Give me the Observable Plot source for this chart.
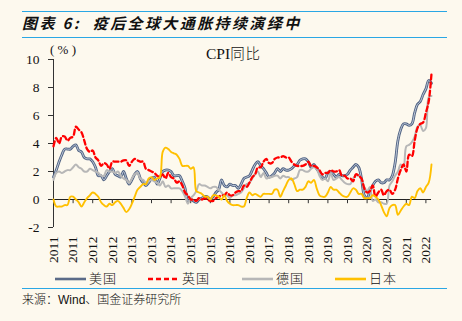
<!DOCTYPE html>
<html><head><meta charset="utf-8">
<script src="https://cdn.jsdelivr.net/npm/d3@7"></script>
<script src="https://cdn.jsdelivr.net/npm/@observablehq/plot@0.6"></script>
<style>
html,body{margin:0;padding:0;background:#FDF9EE;}
#wrap{position:relative;width:462px;height:321px;background:#FDF9EE;overflow:hidden;font-family:"Liberation Serif",serif;color:#111;}
.rule{position:absolute;left:22px;width:425px;height:0;border-top:1.6px solid #2AA7E4;}
#title{position:absolute;left:22px;top:13px;font:italic bold 15px "Noto Sans CJK SC",sans-serif;letter-spacing:2.4px;color:#111;white-space:nowrap;line-height:20px;}
#chart{position:absolute;left:0;top:40px;}
#unit{position:absolute;left:50px;top:42px;font:13px "Liberation Serif",serif;white-space:pre;}
#ctitle{position:absolute;left:206px;top:42px;font:15.5px "Liberation Serif",serif;white-space:nowrap;}
#ctitle span{font-family:"Noto Sans CJK SC",sans-serif;font-weight:300;font-size:14.5px;letter-spacing:1px;}
#legend{position:absolute;left:0;top:268px;width:462px;height:20px;}
#legend .it{position:absolute;top:0;font:13px "Noto Sans CJK SC",sans-serif;font-weight:300;line-height:20px;letter-spacing:1px;white-space:nowrap;}
#legend svg{vertical-align:middle;margin-right:3px;}
#source{position:absolute;left:22px;top:290px;font:12px "Noto Sans CJK SC",sans-serif;font-weight:300;line-height:17px;white-space:nowrap;}
#source .w{font-family:"Liberation Sans",sans-serif;}
</style></head>
<body>
<div id="wrap">
  <div class="rule" style="top:11px"></div>
  <div id="title">图表 6:&nbsp; 疫后全球大通胀持续演绎中</div>
  <div class="rule" style="top:37px"></div>
  <div id="chart"></div>
  <div id="unit">( % )</div>
  <div id="ctitle">CPI<span>同比</span></div>
  <div id="legend"></div>
  <div class="rule" style="top:288px"></div>
  <div id="source">来源：<span class="w">Wind</span>、国金证券研究所</div>
</div>
<script>
// Monthly CPI YoY (%), Jan 2011 – Apr 2022
const seriesNames = ["美国", "英国", "德国", "日本"];
const us = [
  1.6,2.1,2.7,3.2,3.6,3.6,3.6,3.8,3.9,3.5,3.4,3.0,
  2.9,2.9,2.7,2.3,1.7,1.7,1.4,1.7,2.0,2.2,1.8,1.7,
  1.6,2.0,1.5,1.1,1.4,1.8,2.0,1.5,1.2,1.0,1.2,1.5,
  1.6,1.1,1.5,2.0,2.1,2.1,2.0,1.7,1.7,1.7,1.3,0.8,
  -0.1,0.0,-0.1,-0.2,0.0,0.1,0.2,0.2,0.0,0.2,0.5,0.7,
  1.4,1.0,0.9,1.1,1.0,1.0,0.8,1.1,1.5,1.6,1.7,2.1,
  2.5,2.7,2.4,2.2,1.9,1.6,1.7,1.9,2.2,2.0,2.2,2.1,
  2.1,2.2,2.4,2.5,2.8,2.9,2.9,2.7,2.3,2.5,2.2,1.9,
  1.6,1.5,1.9,2.0,1.8,1.6,1.8,1.7,1.7,1.8,2.1,2.3,
  2.5,2.3,1.5,0.3,0.1,0.6,1.0,1.3,1.4,1.2,1.2,1.4,
  1.4,1.7,2.6,4.2,5.0,5.4,5.4,5.3,5.4,6.2,6.8,7.0,
  7.5,7.9,8.5,8.3
];
const uk = [
  3.8,4.4,4.0,4.5,4.5,4.2,4.4,4.5,5.2,5.0,4.8,4.2,
  3.6,3.4,3.5,3.0,2.8,2.4,2.6,2.5,2.2,2.7,2.7,2.7,
  2.7,2.8,2.8,2.4,2.7,2.9,2.8,2.7,2.7,2.2,2.1,2.0,
  1.9,1.7,1.6,1.8,1.5,1.9,1.6,1.5,1.2,1.3,1.0,0.5,
  0.3,0.0,0.0,-0.1,0.1,0.0,0.1,0.0,-0.1,-0.1,0.1,0.2,
  0.3,0.3,0.5,0.3,0.3,0.5,0.6,0.6,1.0,0.9,1.2,1.6,
  1.8,2.3,2.3,2.7,2.9,2.6,2.6,2.9,3.0,3.0,3.1,3.0,
  3.0,2.7,2.5,2.4,2.4,2.4,2.5,2.7,2.4,2.4,2.3,2.1,
  1.8,1.9,1.9,2.1,2.0,2.0,2.1,1.7,1.7,1.5,1.5,1.3,
  1.8,1.7,1.5,0.8,0.5,0.6,1.0,0.2,0.5,0.7,0.3,0.6,
  0.7,0.4,0.7,1.5,2.1,2.5,2.0,3.2,3.1,4.2,5.1,5.4,
  5.5,6.2,7.0,9.0
];
const de = [
  1.4,1.9,2.0,1.9,2.0,2.1,2.1,2.3,2.5,2.3,2.2,2.0,
  2.0,2.2,2.1,2.0,1.9,1.7,1.7,2.1,2.0,2.0,1.9,2.0,
  1.7,1.5,1.4,1.2,1.5,1.8,1.9,1.5,1.4,1.2,1.3,1.4,
  1.3,1.2,1.0,1.3,0.9,1.0,0.8,0.8,0.8,0.8,0.6,0.2,
  -0.3,0.1,0.3,0.6,1.1,1.0,1.0,0.9,0.8,0.9,0.9,0.7,
  0.5,0.3,0.3,0.1,0.3,0.3,0.4,0.5,0.8,1.1,1.2,1.5,
  1.8,2.0,1.6,1.9,1.5,1.6,1.6,1.7,1.7,1.5,1.7,1.6,
  1.6,1.4,1.5,1.6,2.1,2.1,2.0,2.0,2.2,2.3,2.2,1.7,
  1.4,1.5,1.3,1.9,1.4,1.5,1.6,1.4,1.2,1.1,1.1,1.5,
  1.7,1.7,1.4,0.9,0.6,0.9,-0.1,0.0,-0.2,-0.2,-0.3,-0.3,
  1.0,1.3,1.7,2.0,2.5,2.3,3.8,3.9,4.1,4.5,5.2,5.3,
  4.9,5.1,7.3,7.4
];
const jp = [
  0.0,-0.5,-0.5,-0.5,-0.4,-0.4,0.2,0.2,0.0,-0.2,-0.5,-0.2,
  0.1,0.3,0.5,0.4,0.2,-0.2,-0.4,-0.5,-0.3,-0.4,-0.2,-0.1,
  -0.3,-0.6,-0.9,-0.7,-0.3,0.2,0.7,0.9,1.1,1.1,1.5,1.6,
  1.4,1.5,1.6,3.4,3.7,3.6,3.4,3.3,3.2,2.9,2.4,2.4,
  2.4,2.2,2.3,0.6,0.5,0.4,0.2,0.2,0.0,0.3,0.3,0.2,
  0.0,0.3,-0.1,-0.3,-0.4,-0.4,-0.4,-0.5,-0.5,0.1,0.5,0.3,
  0.4,0.3,0.2,0.4,0.4,0.4,0.4,0.7,0.7,0.2,0.6,1.0,
  1.4,1.5,1.1,0.6,0.7,0.7,0.9,1.3,1.2,1.4,0.8,0.3,
  0.2,0.2,0.5,0.9,0.7,0.7,0.5,0.3,0.2,0.2,0.5,0.8,
  0.7,0.4,0.4,0.1,0.1,0.1,0.3,0.2,0.0,-0.4,-0.9,-1.2,
  -0.6,-0.4,-0.4,-1.1,-0.8,-0.5,-0.3,-0.4,0.2,0.1,0.6,0.8,
  0.5,0.9,1.2,2.5
];
// x tick labels, one every 7 months from Jan 2011
const xTickLabels = ["2011","2011","2012","2012","2013","2013","2014","2015","2015","2016",
                     "2016","2017","2018","2018","2019","2019","2020","2020","2021","2022"];
const yTicks = [-2, 0, 2, 4, 6, 8, 10];
const colors = {us: "#4F6283", usInner: "#CCD5E2", uk: "#FF0000", de: "#B7B7B7", jp: "#FFC000"};

const n = us.length;
const idx = d3.range(n);
const tickIdx = xTickLabels.map((_, k) => k * 7);
const crv = "catmull-rom";

const chart = Plot.plot({
  width: 462, height: 228,
  marginTop: 19, marginBottom: 41, marginLeft: 53, marginRight: 31,
  style: {background: "transparent", fontFamily: "Liberation Serif, serif", fontSize: "13px", color: "#111"},
  x: {domain: [0, n - 1]},
  y: {domain: [-2, 10]},
  marks: [
    Plot.axisY({ticks: yTicks, tickSize: 5, tickPadding: 9, tickFormat: d => String(d), fontSize: 13.5, stroke: "#333"}),
    Plot.axisX({ticks: tickIdx, tickSize: 0, tickPadding: 9, tickRotate: -90,
                tickFormat: d => xTickLabels[tickIdx.indexOf(d)], fontSize: 13.5}),
    Plot.ruleX([0], {stroke: "#333", strokeWidth: 1}),
    Plot.ruleY([0], {stroke: "#222", strokeWidth: 1}),
    Plot.ruleX(tickIdx, {y1: 0, y2: -0.3, stroke: "#333"}),
    Plot.line(us, {x: idx, y: us, stroke: colors.us, strokeWidth: 2.8, curve: crv}),
    Plot.line(us, {x: idx, y: us, stroke: colors.usInner, strokeWidth: 0.9, curve: crv}),
    Plot.line(de, {x: idx, y: de, stroke: colors.de, strokeWidth: 2, curve: crv}),
    Plot.line(uk, {x: idx, y: uk, stroke: colors.uk, strokeWidth: 2.3, strokeDasharray: "5,3", curve: crv}),
    Plot.line(jp, {x: idx, y: jp, stroke: colors.jp, strokeWidth: 1.9, curve: crv})
  ]
});
document.getElementById("chart").appendChild(chart);

// legend
const legendItems = [
  {name: seriesNames[0], x: 55, stroke: "#5B6B88", dash: null},
  {name: seriesNames[1], x: 148, stroke: colors.uk, dash: "5,3"},
  {name: seriesNames[2], x: 242, stroke: colors.de, dash: null},
  {name: seriesNames[3], x: 335, stroke: colors.jp, dash: null}
];
const lg = document.getElementById("legend");
for (const it of legendItems) {
  const d = document.createElement("div");
  d.className = "it";
  d.style.left = it.x + "px";
  d.innerHTML = `<svg width="31" height="6"><line x1="0" y1="3" x2="31" y2="3" stroke="${it.stroke}" stroke-width="2.6" ${it.dash ? `stroke-dasharray="${it.dash}"` : ""}/></svg>${it.name}`;
  lg.appendChild(d);
}
</script>
</body></html>
